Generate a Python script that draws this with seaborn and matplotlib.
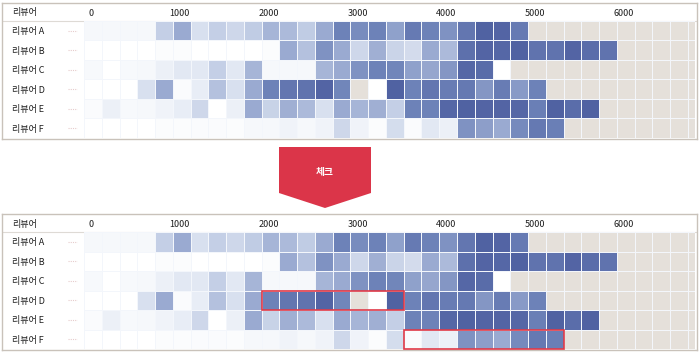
import numpy as np
import pandas as pd
import matplotlib.pyplot as plt
import seaborn as sns
from matplotlib.colors import LinearSegmentedColormap, ListedColormap
from matplotlib.patches import Rectangle, Polygon

# estilo base + fuente coreana (después de set_style)
sns.set_style("white")
plt.rcParams['font.family'] = ['Noto Sans CJK KR', 'DejaVu Sans']

# --- datos (intensidad 0..1, NaN = sin datos) ---
REVIEWERS = ["리뷰어 A", "리뷰어 B", "리뷰어 C", "리뷰어 D", "리뷰어 E", "리뷰어 F"]
BIN_WIDTH = 200
N_BINS = 35
TICK_VALUES = [0, 1000, 2000, 3000, 4000, 5000, 6000]
HEADER_LABEL = "리뷰어"
ARROW_LABEL = "체크"

rev_a = [0.05, 0.05, 0.05, 0.05, 0.3, 0.5, 0.2, 0.3, 0.25, 0.32, 0.45, 0.42, 0.32,
         0.5, 0.7, 0.65, 0.7, 0.55, 0.75, 0.7, 0.62, 0.78, 0.92, 0.9, 0.75]
rev_b = [0, 0, 0, 0, 0.02, 0.02, 0, 0, 0, 0, 0.02, 0.5, 0.38, 0.62, 0.5, 0.25, 0.48,
         0.27, 0.23, 0.5, 0.42, 0.82, 0.9, 0.88, 0.92, 0.8, 0.8, 0.9, 0.84, 0.8]
rev_c = [0.04, 0.0, 0.04, 0.05, 0.1, 0.15, 0.15, 0.3, 0.15, 0.45, 0.05, 0.05, 0.05,
         0.45, 0.5, 0.62, 0.7, 0.68, 0.55, 0.52, 0.6, 0.88, 0.85, 0.0]
rev_d = [0, 0, 0, 0.2, 0.5, 0.03, 0.12, 0.38, 0.2, 0.5, 0.7, 0.78, 0.8, 0.9, 0.68,
         np.nan, 0.0, 0.92, 0.7, 0.78, 0.74, 0.76, 0.6, 0.74, 0.58, 0.7]
rev_e = [0.03, 0.1, 0.04, 0.05, 0.08, 0.12, 0.25, 0.0, 0.1, 0.5, 0.28, 0.48, 0.42,
         0.2, 0.5, 0.45, 0.48, 0.3, 0.7, 0.7, 0.88, 0.92, 0.9, 0.9, 0.88, 0.72,
         0.92, 0.84, 0.92]
rev_f = [0, 0, 0, 0, 0.02, 0.02, 0.03, 0.03, 0.02, 0.05, 0.05, 0.08, 0.05, 0.08,
         0.25, 0.08, 0.02, 0.22, 0.03, 0.15, 0.1, 0.62, 0.56, 0.5, 0.66, 0.76, 0.72]

# zonas marcadas en el panel de abajo: (revisor, desde, hasta)
HIGHLIGHTS = [("리뷰어 D", 2000, 3600), ("리뷰어 F", 3600, 5400)]

rows = [rev_a, rev_b, rev_c, rev_d, rev_e, rev_f]
bins = np.arange(N_BINS) * BIN_WIDTH
df = pd.DataFrame([r + [np.nan] * (N_BINS - len(r)) for r in rows],
                  index=REVIEWERS, columns=bins, dtype=float)

cmap = LinearSegmentedColormap.from_list(
    "rev", [(0, "#ffffff"), (0.2, "#d8e0ef"), (0.45, "#a6b5d7"),
            (0.7, "#6d82b8"), (1.0, "#46569a")])
bg_cmap = ListedColormap(["#e5e0da"])

W, H = 700, 356


def box(x0, y0, x1, y1):
    # píxeles -> fracción de figura
    return [x0 / W, 1 - y1 / H, (x1 - x0) / W, (y1 - y0) / H]


fig = plt.figure(figsize=(7, 3.56), dpi=100)


def draw_panel(top, marks):
    frame = fig.add_axes(box(2, top, 697, top + 136))
    frame.set_xticks([])
    frame.set_yticks([])
    for s in frame.spines.values():
        s.set_color("#c9c2ba")
        s.set_linewidth(1)
    frame.axhline(1 - 18 / 136, color="#dedad5", lw=0.8)
    fig.text(12 / W, 1 - (top + 10) / H, HEADER_LABEL, fontsize=6.5,
             fontweight="medium", va="center", ha="left", color="#1e1e1e")

    ax = fig.add_axes(box(84, top + 18, 695, top + 135))
    nan_layer = df.isna().astype(float).where(df.isna())
    sns.heatmap(nan_layer, ax=ax, cmap=bg_cmap, vmin=0, vmax=1, cbar=False,
                linewidths=0.5, linecolor="white", xticklabels=False, yticklabels=False)
    sns.heatmap(df, ax=ax, cmap=cmap, vmin=0, vmax=1, cbar=False,
                linewidths=0.5, linecolor="#f3f6fb", xticklabels=False, yticklabels=False)
    ax.set_xlim(0, 34.4)

    ax.xaxis.tick_top()
    ax.set_xticks(np.array(TICK_VALUES) / BIN_WIDTH + 0.4)
    ax.set_xticklabels([str(v) for v in TICK_VALUES], fontweight="medium")
    ax.tick_params(axis="x", top=True, bottom=False, labeltop=True, labelbottom=False,
                   length=0, pad=2.5, labelsize=6.5, labelcolor="#1e1e1e")

    ax.set_yticks(np.arange(len(REVIEWERS)) + 0.5)
    ax.set_yticklabels(REVIEWERS, rotation=0, fontweight="medium")
    ax.tick_params(axis="y", length=0, pad=51.8, labelsize=6.5, labelcolor="#1e1e1e")
    for lbl in ax.get_yticklabels():
        lbl.set_horizontalalignment("left")

    # rayitas punteadas junto a cada nombre
    ax.hlines(np.arange(len(REVIEWERS)) + 0.5, -0.9, -0.4, colors="#e6cccc",
              lw=0.8, linestyles=(0, (1, 1)), clip_on=False)

    if marks:
        for name, lo, hi in HIGHLIGHTS:
            r = REVIEWERS.index(name)
            c0, c1 = lo / BIN_WIDTH, hi / BIN_WIDTH
            ax.add_patch(Rectangle((c0, r), c1 - c0, 1, fill=False,
                                   ec="#e03a48", lw=1.2, clip_on=False, zorder=5))
    return ax


draw_panel(3, marks=False)
draw_panel(214, marks=True)

# flecha roja "체크"
pts = [(279, 147), (371, 147), (371, 193), (325, 208), (279, 193)]
pts = [(x / W, 1 - y / H) for x, y in pts]
fig.add_artist(Polygon(pts, closed=True, transform=fig.transFigure,
                       fc="#db3549", ec="none"))
fig.text(325 / W, 1 - 172 / H, ARROW_LABEL, color="white", fontsize=7,
         fontweight="bold", ha="center", va="center")

fig.savefig("out.png", dpi=100)
plt.close(fig)
